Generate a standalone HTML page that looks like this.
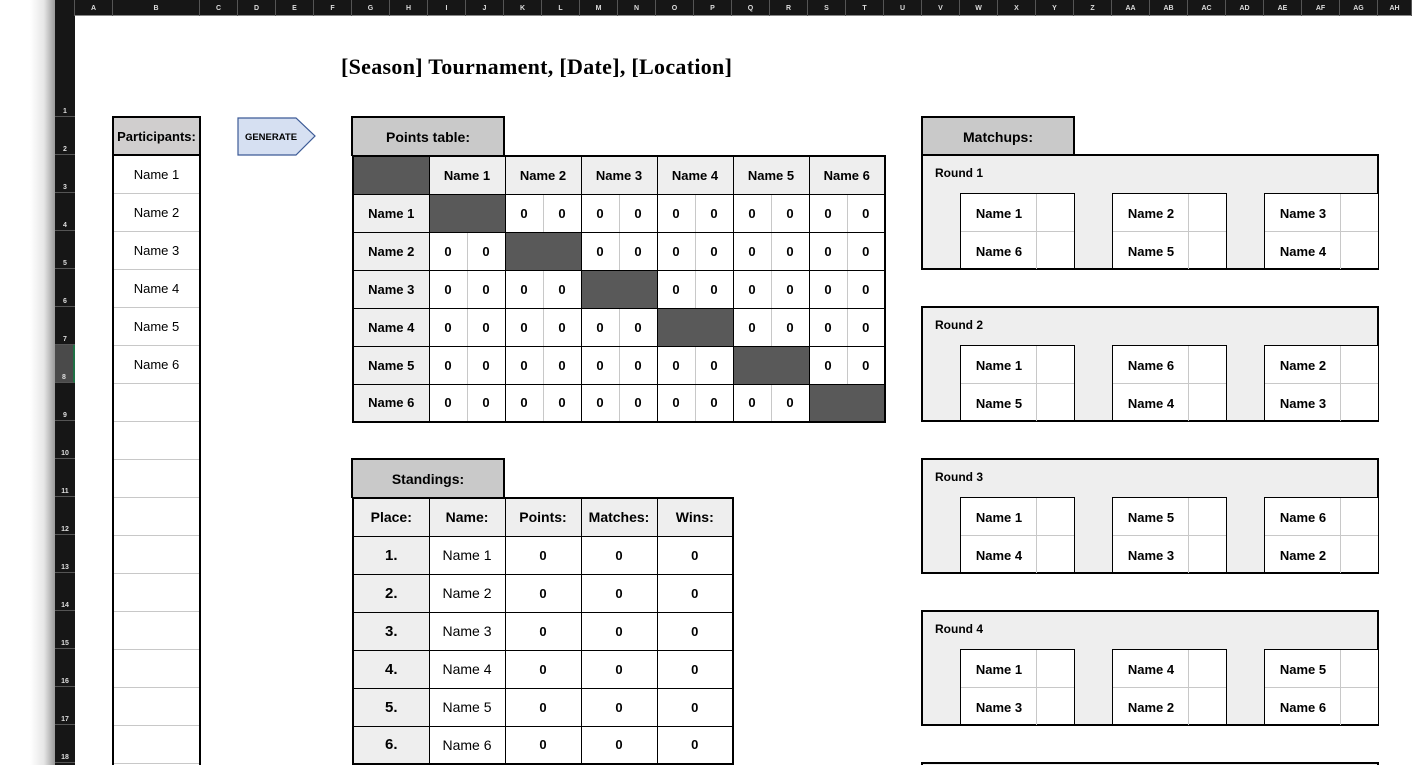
<!DOCTYPE html>
<html style="width:1412px;height:765px;overflow:hidden"><head><meta charset="utf-8">
<style>
*{margin:0;padding:0;box-sizing:border-box}
body{width:1412px;height:765px;overflow:hidden;background:#fff;position:relative;font-family:"Liberation Sans",sans-serif}
.a{position:absolute}
.shadow{left:0;top:0;width:55px;height:765px;background:linear-gradient(to right,#fff 0%,#fff 55%,#e6e6e6 80%,#9a9a9a 100%)}
.rowh{left:55px;top:0;width:20px;height:765px;background:#161616}
.colh{left:55px;top:0;width:1357px;height:16px;background:#161616;border-bottom:1px solid #888}
.cl{position:absolute;top:0;height:16px;color:#ddd;font-size:7px;font-weight:bold;display:flex;align-items:center;justify-content:center;border-right:1px solid #555}
.rl{position:absolute;left:55px;width:20px;color:#ddd;font-size:7px;font-weight:bold;border-bottom:1px solid #555;display:flex;align-items:flex-end;justify-content:center;padding-bottom:1px}
table{border-collapse:collapse;table-layout:fixed;position:absolute}
td{border:1px solid #000;text-align:center;font-size:13px;font-weight:bold;height:38px;padding:0;color:#000}
.dk{background:#595959}
.lg{background:#eeeeee}
.l{border-right:1px solid #c8c8c8}
.r{border-left:1px solid #c8c8c8}
.tab{position:absolute;border:2px solid #000;border-bottom:none;background:#c9c9c9;font-size:14px;font-weight:bold;display:flex;align-items:center;justify-content:center}
.rnd{position:absolute;left:921px;width:458px;height:116px;border:2px solid #000;background:#eeeeee}
.rt{position:absolute;left:12px;top:10px;font-size:12px;font-weight:bold}
.m{position:absolute;width:115px;height:75px;background:#fff;border:1px solid #000;border-bottom:none}
.m .n{position:absolute;left:0;width:76px;height:38px;display:flex;align-items:center;justify-content:center;font-size:13px;font-weight:bold}
.m .vl{position:absolute;left:75px;top:0;width:1px;height:75px;background:#c8c8c8}
.m .hl{position:absolute;left:0;top:37px;width:113px;height:1px;background:#c8c8c8}
</style></head><body>
<div class="a shadow"></div>
<div class="a rowh"></div>
<div class="a colh"></div>
<div class="cl" style="left:75px;width:38px">A</div>
<div class="cl" style="left:113px;width:87px">B</div>
<div class="cl" style="left:200px;width:38px">C</div>
<div class="cl" style="left:238px;width:38px">D</div>
<div class="cl" style="left:276px;width:38px">E</div>
<div class="cl" style="left:314px;width:38px">F</div>
<div class="cl" style="left:352px;width:38px">G</div>
<div class="cl" style="left:390px;width:38px">H</div>
<div class="cl" style="left:428px;width:38px">I</div>
<div class="cl" style="left:466px;width:38px">J</div>
<div class="cl" style="left:504px;width:38px">K</div>
<div class="cl" style="left:542px;width:38px">L</div>
<div class="cl" style="left:580px;width:38px">M</div>
<div class="cl" style="left:618px;width:38px">N</div>
<div class="cl" style="left:656px;width:38px">O</div>
<div class="cl" style="left:694px;width:38px">P</div>
<div class="cl" style="left:732px;width:38px">Q</div>
<div class="cl" style="left:770px;width:38px">R</div>
<div class="cl" style="left:808px;width:38px">S</div>
<div class="cl" style="left:846px;width:38px">T</div>
<div class="cl" style="left:884px;width:38px">U</div>
<div class="cl" style="left:922px;width:38px">V</div>
<div class="cl" style="left:960px;width:38px">W</div>
<div class="cl" style="left:998px;width:38px">X</div>
<div class="cl" style="left:1036px;width:38px">Y</div>
<div class="cl" style="left:1074px;width:38px">Z</div>
<div class="cl" style="left:1112px;width:38px">AA</div>
<div class="cl" style="left:1150px;width:38px">AB</div>
<div class="cl" style="left:1188px;width:38px">AC</div>
<div class="cl" style="left:1226px;width:38px">AD</div>
<div class="cl" style="left:1264px;width:38px">AE</div>
<div class="cl" style="left:1302px;width:38px">AF</div>
<div class="cl" style="left:1340px;width:38px">AG</div>
<div class="cl" style="left:1378px;width:34px">AH</div>
<div class="a" style="left:55px;top:0;width:20px;height:16px;background:#161616;border-right:1px solid #555"></div>

<div class="rl" style="top:16px;height:101px">1</div>
<div class="rl" style="top:117px;height:38px">2</div>
<div class="rl" style="top:155px;height:38px">3</div>
<div class="rl" style="top:193px;height:38px">4</div>
<div class="rl" style="top:231px;height:38px">5</div>
<div class="rl" style="top:269px;height:38px">6</div>
<div class="rl" style="top:307px;height:38px">7</div>
<div class="rl" style="top:345px;height:38px;background:#4a4a4a;border-right:2px solid #1e7145">8</div>
<div class="rl" style="top:383px;height:38px">9</div>
<div class="rl" style="top:421px;height:38px">10</div>
<div class="rl" style="top:459px;height:38px">11</div>
<div class="rl" style="top:497px;height:38px">12</div>
<div class="rl" style="top:535px;height:38px">13</div>
<div class="rl" style="top:573px;height:38px">14</div>
<div class="rl" style="top:611px;height:38px">15</div>
<div class="rl" style="top:649px;height:38px">16</div>
<div class="rl" style="top:687px;height:38px">17</div>
<div class="rl" style="top:725px;height:38px">18</div>

<div class="a" style="left:341px;top:54px;font-family:'Liberation Serif',serif;font-weight:bold;font-size:22px;letter-spacing:0.3px;white-space:nowrap">[Season] Tournament, [Date], [Location]</div>

<!-- Participants -->
<div class="a" style="left:112px;top:116px;width:89px;height:40px;border:2px solid #000;background:#d0cece;font-size:13px;font-weight:bold;display:flex;align-items:center;justify-content:center">Participants:</div>
<div class="a" style="left:112px;top:156px;width:89px;height:609px;border-left:2px solid #000;border-right:2px solid #000;background:repeating-linear-gradient(to bottom,#fff 0,#fff 37px,#c8c8c8 37px,#c8c8c8 38px)"></div>
<div class="a" style="left:114px;top:156px;width:85px;font-size:13px;text-align:center;line-height:38px">Name 1<br>Name 2<br>Name 3<br>Name 4<br>Name 5<br>Name 6</div>

<!-- Generate -->
<svg class="a" style="left:236px;top:116px" width="82" height="42"><polygon points="2,2 60,2 79,20 60,39 2,39" fill="#d6e0f2" stroke="#3c5a96" stroke-width="1.2"/><text x="35" y="24" font-family="Liberation Sans" font-size="9.5" font-weight="bold" text-anchor="middle">GENERATE</text></svg>

<!-- Points table -->
<div class="tab" style="left:351px;top:116px;width:154px;height:40px">Points table:</div>
<table style="left:352px;top:155px;width:532px;border:2px solid #000">
<colgroup><col style="width:76px"><col span="12" style="width:38px"></colgroup>
<tr><td class="dk"></td><td colspan="2" class="lg">Name 1</td><td colspan="2" class="lg">Name 2</td><td colspan="2" class="lg">Name 3</td><td colspan="2" class="lg">Name 4</td><td colspan="2" class="lg">Name 5</td><td colspan="2" class="lg">Name 6</td></tr>
<tr><td class="lg">Name 1</td><td colspan="2" class="dk"></td><td class="l">0</td><td class="r">0</td><td class="l">0</td><td class="r">0</td><td class="l">0</td><td class="r">0</td><td class="l">0</td><td class="r">0</td><td class="l">0</td><td class="r">0</td></tr>
<tr><td class="lg">Name 2</td><td class="l">0</td><td class="r">0</td><td colspan="2" class="dk"></td><td class="l">0</td><td class="r">0</td><td class="l">0</td><td class="r">0</td><td class="l">0</td><td class="r">0</td><td class="l">0</td><td class="r">0</td></tr>
<tr><td class="lg">Name 3</td><td class="l">0</td><td class="r">0</td><td class="l">0</td><td class="r">0</td><td colspan="2" class="dk"></td><td class="l">0</td><td class="r">0</td><td class="l">0</td><td class="r">0</td><td class="l">0</td><td class="r">0</td></tr>
<tr><td class="lg">Name 4</td><td class="l">0</td><td class="r">0</td><td class="l">0</td><td class="r">0</td><td class="l">0</td><td class="r">0</td><td colspan="2" class="dk"></td><td class="l">0</td><td class="r">0</td><td class="l">0</td><td class="r">0</td></tr>
<tr><td class="lg">Name 5</td><td class="l">0</td><td class="r">0</td><td class="l">0</td><td class="r">0</td><td class="l">0</td><td class="r">0</td><td class="l">0</td><td class="r">0</td><td colspan="2" class="dk"></td><td class="l">0</td><td class="r">0</td></tr>
<tr><td class="lg">Name 6</td><td class="l">0</td><td class="r">0</td><td class="l">0</td><td class="r">0</td><td class="l">0</td><td class="r">0</td><td class="l">0</td><td class="r">0</td><td class="l">0</td><td class="r">0</td><td colspan="2" class="dk"></td></tr>
</table>

<!-- Standings -->
<div class="tab" style="left:351px;top:458px;width:154px;height:40px">Standings:</div>
<table style="left:352px;top:497px;width:380px;border:2px solid #000">
<colgroup><col span="5" style="width:76px"></colgroup>
<tr class="lg"><td class="lg" style="font-size:14px">Place:</td><td class="lg" style="font-size:14px">Name:</td><td class="lg" style="font-size:14px">Points:</td><td class="lg" style="font-size:14px">Matches:</td><td class="lg" style="font-size:14px">Wins:</td></tr>
<tr><td class="lg" style="font-size:15px">1.</td><td style="font-weight:normal;font-size:14px">Name 1</td><td>0</td><td>0</td><td>0</td></tr>
<tr><td class="lg" style="font-size:15px">2.</td><td style="font-weight:normal;font-size:14px">Name 2</td><td>0</td><td>0</td><td>0</td></tr>
<tr><td class="lg" style="font-size:15px">3.</td><td style="font-weight:normal;font-size:14px">Name 3</td><td>0</td><td>0</td><td>0</td></tr>
<tr><td class="lg" style="font-size:15px">4.</td><td style="font-weight:normal;font-size:14px">Name 4</td><td>0</td><td>0</td><td>0</td></tr>
<tr><td class="lg" style="font-size:15px">5.</td><td style="font-weight:normal;font-size:14px">Name 5</td><td>0</td><td>0</td><td>0</td></tr>
<tr><td class="lg" style="font-size:15px">6.</td><td style="font-weight:normal;font-size:14px">Name 6</td><td>0</td><td>0</td><td>0</td></tr>
</table>

<!-- Matchups -->
<div class="tab" style="left:921px;top:116px;width:154px;height:40px">Matchups:</div>

<div class="rnd" style="top:154px"><div class="rt">Round 1</div></div>
<div class="m" style="left:960px;top:193px"><div class="n" style="top:0">Name 1</div><div class="n" style="top:38px">Name 6</div><div class="vl"></div><div class="hl"></div></div>
<div class="m" style="left:1112px;top:193px"><div class="n" style="top:0">Name 2</div><div class="n" style="top:38px">Name 5</div><div class="vl"></div><div class="hl"></div></div>
<div class="m" style="left:1264px;top:193px"><div class="n" style="top:0">Name 3</div><div class="n" style="top:38px">Name 4</div><div class="vl"></div><div class="hl"></div></div>

<div class="rnd" style="top:306px"><div class="rt">Round 2</div></div>
<div class="m" style="left:960px;top:345px"><div class="n" style="top:0">Name 1</div><div class="n" style="top:38px">Name 5</div><div class="vl"></div><div class="hl"></div></div>
<div class="m" style="left:1112px;top:345px"><div class="n" style="top:0">Name 6</div><div class="n" style="top:38px">Name 4</div><div class="vl"></div><div class="hl"></div></div>
<div class="m" style="left:1264px;top:345px"><div class="n" style="top:0">Name 2</div><div class="n" style="top:38px">Name 3</div><div class="vl"></div><div class="hl"></div></div>

<div class="rnd" style="top:458px"><div class="rt">Round 3</div></div>
<div class="m" style="left:960px;top:497px"><div class="n" style="top:0">Name 1</div><div class="n" style="top:38px">Name 4</div><div class="vl"></div><div class="hl"></div></div>
<div class="m" style="left:1112px;top:497px"><div class="n" style="top:0">Name 5</div><div class="n" style="top:38px">Name 3</div><div class="vl"></div><div class="hl"></div></div>
<div class="m" style="left:1264px;top:497px"><div class="n" style="top:0">Name 6</div><div class="n" style="top:38px">Name 2</div><div class="vl"></div><div class="hl"></div></div>

<div class="rnd" style="top:610px"><div class="rt">Round 4</div></div>
<div class="m" style="left:960px;top:649px"><div class="n" style="top:0">Name 1</div><div class="n" style="top:38px">Name 3</div><div class="vl"></div><div class="hl"></div></div>
<div class="m" style="left:1112px;top:649px"><div class="n" style="top:0">Name 4</div><div class="n" style="top:38px">Name 2</div><div class="vl"></div><div class="hl"></div></div>
<div class="m" style="left:1264px;top:649px"><div class="n" style="top:0">Name 5</div><div class="n" style="top:38px">Name 6</div><div class="vl"></div><div class="hl"></div></div>

<div class="a" style="left:921px;top:762px;width:458px;height:3px;border-top:2px solid #000;border-left:2px solid #000;border-right:2px solid #000;background:#eeeeee"></div>
</body></html>
